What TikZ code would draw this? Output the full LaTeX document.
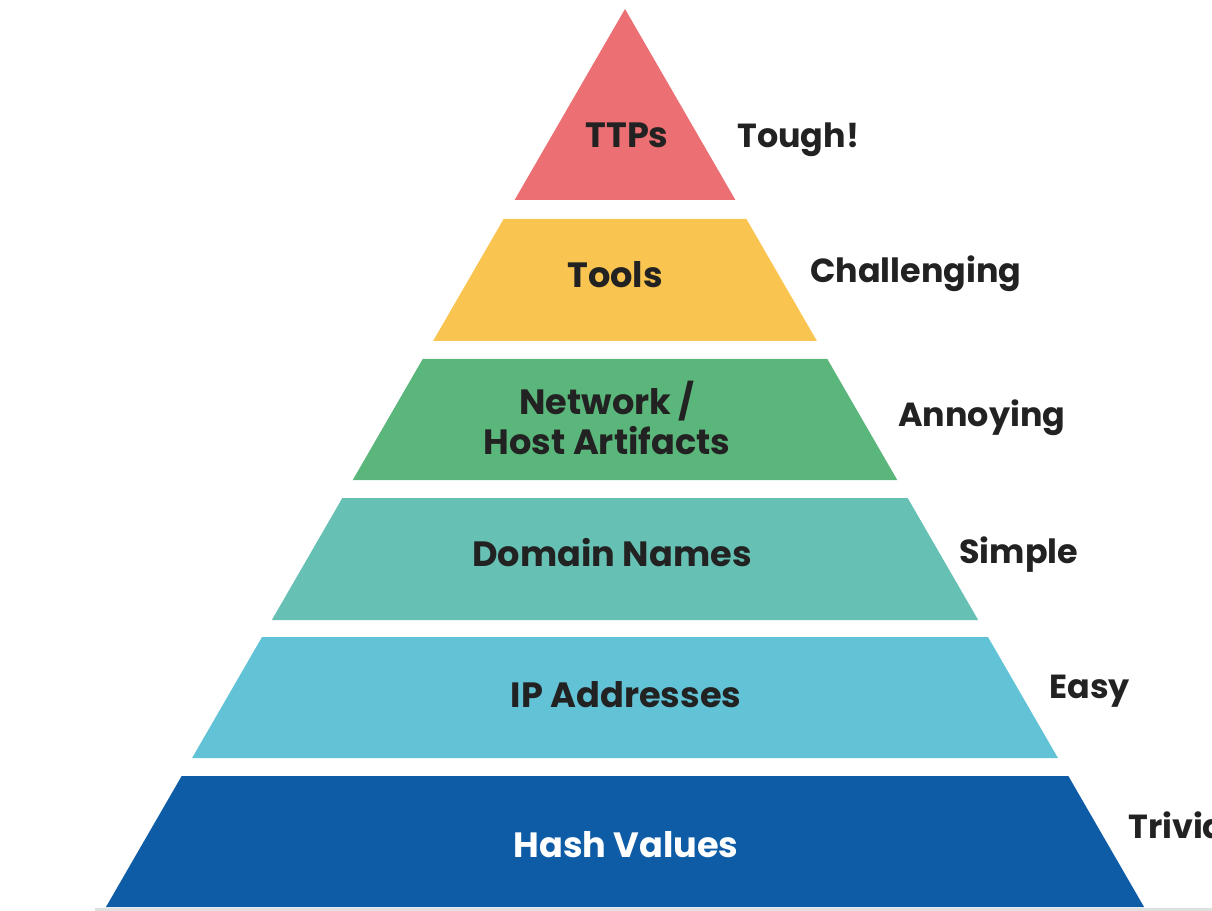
\documentclass[tikz,border=0pt]{standalone}
\usepackage{fontspec}
\setmainfont{Poppins}
\usepackage{tikz}
\usetikzlibrary{positioning}
\definecolor{TtpRed}{HTML}{EC6F73}
\definecolor{ToolYellow}{HTML}{F9C44F}
\definecolor{NetGreen}{HTML}{5BB67B}
\definecolor{DomTeal}{HTML}{66C0B4}
\definecolor{IpBlue}{HTML}{63C3D6}
\definecolor{HashBlue}{HTML}{0F5CA6}
\definecolor{Ink}{HTML}{222222}

\begin{document}
\begin{tikzpicture}[x=0.02cm,y=-0.02cm,
    level/.style={font=\bfseries\fontsize{20}{22.7}\selectfont,text=Ink,align=center,inner sep=0pt,anchor=base},
    rating/.style={font=\bfseries\fontsize{19}{22}\selectfont,text=Ink,inner sep=0pt,anchor=base west}]
        \useasboundingbox (0,0) rectangle (1212,911);
        \fill[black!12] (95,908) rectangle (1212,911);
        \foreach \t/\b/\c in {9/200/TtpRed,219/341/ToolYellow,359/480/NetGreen,498/620/DomTeal,637/758/IpBlue,776/907/HashBlue}
          {\fill[\c] ({625-0.578*(\t-9)},\t) -- ({625+0.578*(\t-9)},\t) -- ({625+0.578*(\b-9)},\b) -- ({625-0.578*(\b-9)},\b) -- cycle;}
        \node[level] (ttps) at (627,148) {TTPs};
        \node[level] (tools) at (615,288) {Tools};
        \node[level,anchor=center] (network) at (607,418) {Network /\\Host Artifacts};
        \node[level] (domain) at (612,566) {Domain Names};
        \node[level] (ip) at (626,707) {IP Addresses};
        \node[level,text=white] (hash) at (626,857) {Hash Values};
        \node[rating] (tough) at (737,148) {Tough!};
        \node[rating] (challenging) at (810,283) {Challenging};
        \node[rating] (annoying) at (898,427) {Annoying};
        \node[rating] (simple) at (959,563) {Simple};
        \node[rating] (easy) at (1049,698) {Easy};
        \node[rating] (trivial) at (1128,838) {Trivial};
      \end{tikzpicture}
\end{document}
